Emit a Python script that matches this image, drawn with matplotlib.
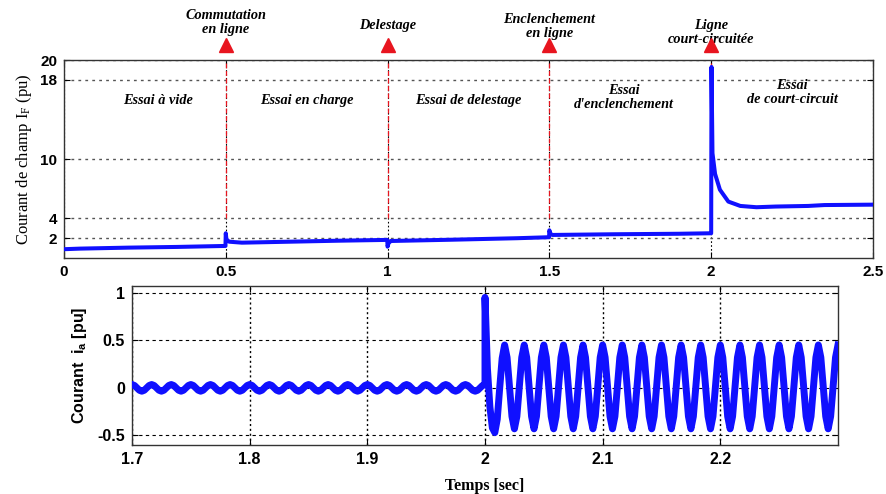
import numpy as np
import matplotlib
matplotlib.use("Agg")
import matplotlib.pyplot as plt

# --- top panel: field current (pu) ---
t_field = [0.0, 0.05, 0.2, 0.35, 0.499, 0.5, 0.502, 0.51, 0.55, 0.7, 0.85, 0.999,
           1.0, 1.003, 1.01, 1.2, 1.4, 1.499, 1.5, 1.503, 1.51, 1.7, 1.9, 1.999,
           2.0, 2.001, 2.004, 2.012, 2.027, 2.053, 2.09, 2.14, 2.2, 2.3, 2.35, 2.5]
i_field = [0.89, 0.95, 1.05, 1.12, 1.22, 2.5, 1.9, 1.65, 1.55, 1.65, 1.75, 1.83,
           1.15, 1.5, 1.72, 1.85, 2.0, 2.1, 2.8, 2.45, 2.33, 2.4, 2.45, 2.5,
           2.5, 19.3, 10.6, 8.5, 6.9, 5.7, 5.26, 5.13, 5.2, 5.26, 5.35, 5.39]

events_t = [0.5, 1.0, 1.5, 2.0]
events_txt = ["Commutation\nen ligne", "Delestage", "Enclenchement\nen ligne",
              "Ligne\ncourt-circuitée"]
events_y = [23.8, 23.5, 23.4, 22.8]

zones_t = [0.29, 0.75, 1.25, 1.73, 2.25]
zones_txt = ["Essai à vide", "Essai en charge", "Essai de delestage",
             "Essai\nd'enclenchement", "Essai\nde court-circuit"]
zones_y = [15.9, 15.9, 15.9, 16.2, 16.7]

# --- bottom panel: line current i_a (pu), sampled at 480 Hz ---
fs = 480
ia_pre = [
    0.035, 0.025, 0.0, -0.025, -0.035, -0.025, 0.0, 0.025,
    0.035, 0.025, 0.0, -0.025, -0.035, -0.025, 0.0, 0.025,
    0.035, 0.025, 0.0, -0.025, -0.035, -0.025, 0.0, 0.025,
    0.035, 0.025, 0.0, -0.025, -0.035, -0.025, 0.0, 0.025,
    0.035, 0.025, 0.0, -0.025, -0.035, -0.025, 0.0, 0.025,
    0.035, 0.025, 0.0, -0.025, -0.035, -0.025, 0.0, 0.025,
    0.035, 0.025, 0.0, -0.025, -0.035, -0.025, 0.0, 0.025,
    0.035, 0.025, 0.0, -0.025, -0.035, -0.025, 0.0, 0.025,
    0.035, 0.025, 0.0, -0.025, -0.035, -0.025, 0.0, 0.025,
    0.035, 0.025, 0.0, -0.025, -0.035, -0.025, 0.0, 0.025,
    0.035, 0.025, 0.0, -0.025, -0.035, -0.025, 0.0, 0.025,
    0.035, 0.025, 0.0, -0.025, -0.035, -0.025, 0.0, 0.025,
    0.035, 0.025, 0.0, -0.025, -0.035, -0.025, 0.0, 0.025,
    0.035, 0.025, 0.0, -0.025, -0.035, -0.025, 0.0, 0.025,
    0.035, 0.025, 0.0, -0.025, -0.035, -0.025, 0.0, 0.025,
    0.035, 0.025, 0.0, -0.025, -0.035, -0.025, 0.0, 0.025,
    0.035, 0.025, 0.0, -0.025, -0.035, -0.025, 0.0, 0.025,
    0.035, 0.025, 0.0, -0.025, -0.035, -0.025, 0.0, 0.025,
    0.035]
ia_post = [
    0.95, 0.20, -0.20, -0.42, -0.47, -0.33, 0.00, 0.31,
    0.45, 0.32, 0.01, -0.30, -0.43, -0.30, 0.01, 0.32,
    0.45, 0.32, 0.01, -0.30, -0.43, -0.30, 0.01, 0.32,
    0.45, 0.32, 0.01, -0.30, -0.43, -0.30, 0.01, 0.32,
    0.45, 0.32, 0.01, -0.30, -0.43, -0.30, 0.01, 0.32,
    0.45, 0.32, 0.01, -0.30, -0.43, -0.30, 0.01, 0.32,
    0.45, 0.32, 0.01, -0.30, -0.43, -0.30, 0.01, 0.32,
    0.45, 0.32, 0.01, -0.30, -0.43, -0.30, 0.01, 0.32,
    0.45, 0.32, 0.01, -0.30, -0.43, -0.30, 0.01, 0.32,
    0.45, 0.32, 0.01, -0.30, -0.43, -0.30, 0.01, 0.32,
    0.45, 0.32, 0.01, -0.30, -0.43, -0.30, 0.01, 0.32,
    0.45, 0.32, 0.01, -0.30, -0.43, -0.30, 0.01, 0.32,
    0.45, 0.32, 0.01, -0.30, -0.43, -0.30, 0.01, 0.32,
    0.45, 0.32, 0.01, -0.30, -0.43, -0.30, 0.01, 0.32,
    0.45, 0.32, 0.01, -0.30, -0.43, -0.30, 0.01, 0.32,
    0.45, 0.32, 0.01, -0.30, -0.43, -0.30, 0.01, 0.32,
    0.45, 0.32, 0.01, -0.30, -0.43, -0.30, 0.01, 0.32,
    0.45, 0.32, 0.01, -0.30, -0.43, -0.30, 0.01, 0.32,
    0.45]
t_pre = 1.7 + np.arange(len(ia_pre)) / fs
t_post = 2.0 + np.arange(len(ia_post)) / fs

top_yticks = [2, 4, 10, 18, 20]
top_xticks = [0, 0.5, 1, 1.5, 2, 2.5]
top_xlabels = ["0", "0.5", "1", "1.5", "2", "2.5"]
bot_xticks = [1.7, 1.8, 1.9, 2.0, 2.1, 2.2]
bot_xlabels = ["1.7", "1.8", "1.9", "2", "2.1", "2.2"]
bot_yticks = [-0.5, 0, 0.5, 1]
bot_ylabels = ["-0.5", "0", "0.5", "1"]

serif = "Liberation Serif"
sans = "Liberation Sans"
blue = "#1010ff"
red = "#e8151f"

fig = plt.figure(figsize=(8.86, 4.94), dpi=100)

# top panel
ax1 = fig.add_axes([0.0722, 0.4777, 0.9131, 0.4008])
ax1.plot(t_field, i_field, color=blue, lw=2.9, zorder=3)
for t in events_t:
    ax1.plot([t, t], [4, 20], color=red, lw=0.9, ls=(0, (4, 2)), zorder=2)
    ax1.plot([t], [21.5], marker="^", color=red, ms=10, clip_on=False, zorder=4)
for t, s, y in zip(events_t, events_txt, events_y):
    ax1.text(t, y, s, ha="center", va="center", family=serif, style="italic",
             weight="bold", fontsize=10.3, linespacing=1.1)
for t, s, y in zip(zones_t, zones_txt, zones_y):
    ax1.text(t, y, s, ha="center", va="center", family=serif, style="italic",
             weight="bold", fontsize=10.3, linespacing=1.15)

ax1.set_xlim(0, 2.5)
ax1.set_ylim(0, 20)
ax1.set_yticks(top_yticks)
ax1.set_xticks(top_xticks)
ax1.set_xticklabels(top_xlabels)
ax1.yaxis.grid(True, color="#555555", ls=(0, (2, 3)), lw=1)
ax1.xaxis.grid(True, color="black", ls=(0, (1.5, 2)), lw=0.8)
ax1.set_ylabel("Courant de champ $\\mathregular{I_F}$ (pu)", family=serif,
               fontsize=12, labelpad=4)

# bottom panel
ax2 = fig.add_axes([0.149, 0.0992, 0.7968, 0.3219])
ax2.plot(np.concatenate([t_pre, t_post]), ia_pre + ia_post, color=blue,
         lw=5, solid_joinstyle="round", zorder=3)
ax2.set_xlim(1.7, 2.3)
ax2.set_ylim(-0.6, 1.07)
ax2.set_xticks(bot_xticks)
ax2.set_xticklabels(bot_xlabels)
ax2.set_yticks(bot_yticks)
ax2.set_yticklabels(bot_ylabels)
ax2.yaxis.grid(True, color="black", ls=(0, (3, 3)), lw=0.8)
ax2.xaxis.grid(True, color="black", ls=(0, (1.5, 2)), lw=1.0)
ax2.set_ylabel("Courant  $\\mathregular{i_a}$ [pu]", family=sans, weight="bold",
               fontsize=11.5, labelpad=6)
ax2.set_xlabel("Temps [sec]", family=serif, weight="bold", fontsize=11.5,
               labelpad=8)

for ax, size in ((ax1, 11), (ax2, 11.5)):
    ax.tick_params(direction="in", top=True, right=True, length=4, width=0.8,
                   labelsize=size, pad=5)
    for lab in ax.get_xticklabels() + ax.get_yticklabels():
        lab.set_family(sans)
        lab.set_weight("bold")
    for sp in ax.spines.values():
        sp.set_color("#333333")
        sp.set_linewidth(1.0)

fig.savefig("out.png", dpi=100)
